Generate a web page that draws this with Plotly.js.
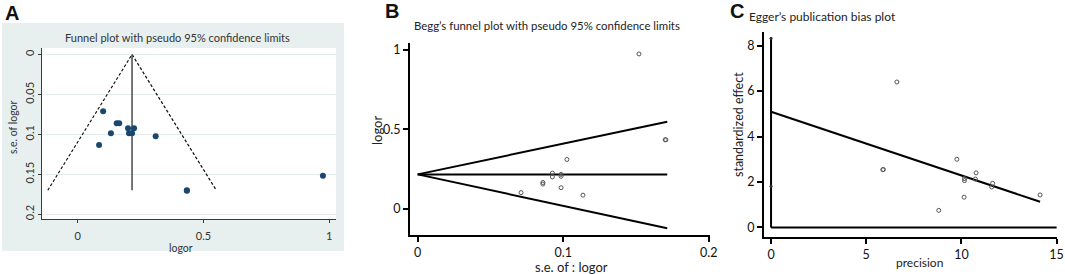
<!DOCTYPE html>
<html>
<head>
<meta charset="utf-8">
<script src="https://cdn.plot.ly/plotly-3.0.1.min.js"></script>
<style>html,body{margin:0;padding:0;background:#fff;}#chart{width:1065px;height:274px;}</style>
</head>
<body>
<div id="chart"></div>
<script>
// ---- Data ----
// Panel A / B : study estimates
const logor = [0.101, 0.155, 0.165, 0.132, 0.085, 0.200, 0.224, 0.204, 0.216, 0.310, 0.434, 0.434, 0.975];
const seLogor = [0.0710, 0.0860, 0.0860, 0.0985, 0.1135, 0.0925, 0.0925, 0.0985, 0.0985, 0.1025, 0.1700, 0.1705, 0.1520];
// pseudo 95% limits (panel A)
const funnelLeftX = [-0.119, 0.216, 0.551];
const funnelLeftY = [0.170, 0, 0.170];
const centerLineX = [0.216, 0.216];
const centerLineY = [0, 0.170];
// Panel B lines (x = s.e., y = logor)
const beggSe = [0, 0.1714];
const beggUpper = [0.216, 0.548];
const beggLower = [0.216, -0.124];
const beggCenter = [0.216, 0.216];
// Panel C : Egger
const precision = [6.61, 5.87, 5.90, 9.76, 10.77, 10.73, 10.16, 10.16, 10.14, 11.64, 11.59, 8.81, 14.13];
const stdEffect = [6.40, 2.54, 2.55, 3.00, 2.40, 2.13, 2.15, 2.06, 1.33, 1.94, 1.78, 0.75, 1.43];
const eggerLineX = [0, 14.13];
const eggerLineY = [5.09, 1.13];
const interceptCiX = [0, 0];
const interceptCiY = [0, 8.33];
const ciEndsY = [1.81, 8.32];
const zeroLineX = [0, 15];
const zeroLineY = [0, 0];
// Tick labels
const aXTicks = [0, 0.5, 1], aXText = ['0', '0.5', '1'];
const aYTicks = [0, 0.05, 0.1, 0.15, 0.2], aYText = ['0', '0.05', '0.1', '0.15', '0.2'];
const bXTicks = [0, 0.1, 0.2], bXText = ['0', '0.1', '0.2'];
const bYTicks = [0, 0.5, 1], bYText = ['0', '0.5', '1'];
const cXTicks = [0, 5, 10, 15], cXText = ['0', '5', '10', '15'];
const cYTicks = [0, 2, 4, 6, 8], cYText = ['0', '2', '4', '6', '8'];

const W = 1065, H = 274;
const FONT = 'Lato, "Open Sans", sans-serif';
function dx(a, b) { return [a / W, b / W]; }
function dy(top, bottom) { return [1 - bottom / H, 1 - top / H]; }

const traces = [
  // Panel A
  {x: funnelLeftX, y: funnelLeftY, xaxis: 'x', yaxis: 'y', mode: 'lines', line: {color: '#111', width: 1.2, dash: '3px,2px'}, hoverinfo: 'skip'},
  {x: centerLineX, y: centerLineY, xaxis: 'x', yaxis: 'y', mode: 'lines', line: {color: '#555', width: 1.6}, hoverinfo: 'skip'},
  {x: logor, y: seLogor, xaxis: 'x', yaxis: 'y', mode: 'markers', marker: {color: '#1a476f', size: 6}},
  // Panel B
  {x: beggSe, y: beggUpper, xaxis: 'x2', yaxis: 'y2', mode: 'lines', line: {color: '#000', width: 2}},
  {x: beggSe, y: beggCenter, xaxis: 'x2', yaxis: 'y2', mode: 'lines', line: {color: '#000', width: 2}},
  {x: beggSe, y: beggLower, xaxis: 'x2', yaxis: 'y2', mode: 'lines', line: {color: '#000', width: 2}},
  {x: seLogor, y: logor, xaxis: 'x2', yaxis: 'y2', mode: 'markers', marker: {symbol: 'circle-open', color: '#555', size: 4, line: {width: 1, color: '#555'}}},
  // Panel C
  {x: zeroLineX, y: zeroLineY, xaxis: 'x3', yaxis: 'y3', mode: 'lines', line: {color: '#000', width: 2}},
  {x: interceptCiX, y: interceptCiY, xaxis: 'x3', yaxis: 'y3', mode: 'lines', line: {color: '#000', width: 2}},
  {x: [0, 0], y: ciEndsY, xaxis: 'x3', yaxis: 'y3', mode: 'markers', marker: {color: '#333', size: 3}},
  {x: eggerLineX, y: eggerLineY, xaxis: 'x3', yaxis: 'y3', mode: 'lines', line: {color: '#000', width: 2}},
  {x: precision, y: stdEffect, xaxis: 'x3', yaxis: 'y3', mode: 'markers', marker: {symbol: 'circle-open', color: '#555', size: 4, line: {width: 1, color: '#555'}}}
];

const axA = {showline: true, linecolor: '#3a3a3a', linewidth: 1, ticks: 'outside', ticklen: 3, tickcolor: '#3a3a3a', zeroline: false, tickfont: {family: FONT, size: 11, color: '#333'}};
const axBC = {showline: true, linecolor: '#000', linewidth: 2, ticks: 'outside', ticklen: 5, tickwidth: 2, tickcolor: '#000', zeroline: false, showgrid: false, tickfont: {family: FONT, size: 12.5, color: '#111'}};

const layout = {
  width: W, height: H,
  margin: {l: 0, r: 0, t: 0, b: 0},
  paper_bgcolor: '#fff', plot_bgcolor: 'rgba(0,0,0,0)',
  showlegend: false,
  font: {family: FONT},
  xaxis: Object.assign({}, axA, {domain: dx(42, 336), range: [-0.142, 1.027], tickmode: 'array', tickvals: aXTicks, ticktext: aXText, showgrid: false, anchor: 'y', ticklabelstandoff: 4}),
  yaxis: Object.assign({}, axA, {domain: dy(48, 219), range: [0.206, -0.0081], tickmode: 'array', tickvals: aYTicks, ticktext: aYText, tickangle: -90, showgrid: true, gridcolor: '#e4ebeb', gridwidth: 1, anchor: 'x'}),
  xaxis2: Object.assign({}, axBC, {domain: dx(410, 710), range: [-0.0053, 0.2008], tickmode: 'array', tickvals: bXTicks, ticktext: bXText, anchor: 'y2'}),
  yaxis2: Object.assign({}, axBC, {domain: dy(43, 235), range: [-0.166, 1.044], tickmode: 'array', tickvals: bYTicks, ticktext: bYText, anchor: 'x2'}),
  xaxis3: Object.assign({}, axBC, {domain: dx(764, 1057), range: [-0.37, 15.02], tickmode: 'array', tickvals: cXTicks, ticktext: cXText, anchor: 'y3'}),
  yaxis3: Object.assign({}, axBC, {domain: dy(32, 236.5), range: [-0.40, 8.6], tickmode: 'array', tickvals: cYTicks, ticktext: cYText, anchor: 'x3'}),
  shapes: [
    {type: 'rect', xref: 'paper', yref: 'paper', x0: 2 / W, x1: 344 / W, y0: 1 - 251 / H, y1: 1 - 23 / H, fillcolor: '#e8efef', line: {width: 0}, layer: 'below'},
    {type: 'rect', xref: 'paper', yref: 'paper', x0: 42 / W, x1: 336 / W, y0: 1 - 219 / H, y1: 1 - 48 / H, fillcolor: '#ffffff', line: {width: 0}, layer: 'below'}
  ],
  annotations: []
};

function ann(text, x, y, size, opts) {
  return Object.assign({text: text, xref: 'paper', yref: 'paper', x: x / W, y: 1 - y / H, xanchor: 'center', yanchor: 'middle', showarrow: false, font: {family: FONT, size: size, color: '#222'}}, opts || {});
}
const letterFont = {family: 'Arial, "Liberation Sans", sans-serif', size: 20, color: '#111'};
layout.annotations.push(
  ann('<b>A</b>', 12, 13, 20, {font: letterFont}),
  ann('<b>B</b>', 391.5, 11.5, 20, {font: letterFont}),
  ann('<b>C</b>', 737, 11.5, 20, {font: letterFont}),
  ann('Funnel plot with pseudo 95% confidence limits', 177.5, 37, 11, {font: {family: FONT, size: 11, color: '#333'}}),
  ann('logor', 181, 248, 10.5, {font: {family: FONT, size: 10.5, color: '#333'}}),
  ann('s.e. of logor', 13, 128, 10.5, {textangle: -90, font: {family: FONT, size: 10.5, color: '#333'}}),
  ann('Begg\u2019s funnel plot with pseudo 95% confidence limits', 547, 25, 11.4),
  ann('s.e. of : logor', 571, 267, 13),
  ann('logor', 377, 131, 13, {textangle: -90}),
  ann('Egger\u2019s publication bias plot', 747, 17, 12, {xanchor: 'left'}),
  ann('precision', 919, 262, 12),
  ann('standardized effect', 738, 125, 12.5, {textangle: -90})
);

Plotly.newPlot('chart', traces, layout, {staticPlot: true});
</script>
</body>
</html>
